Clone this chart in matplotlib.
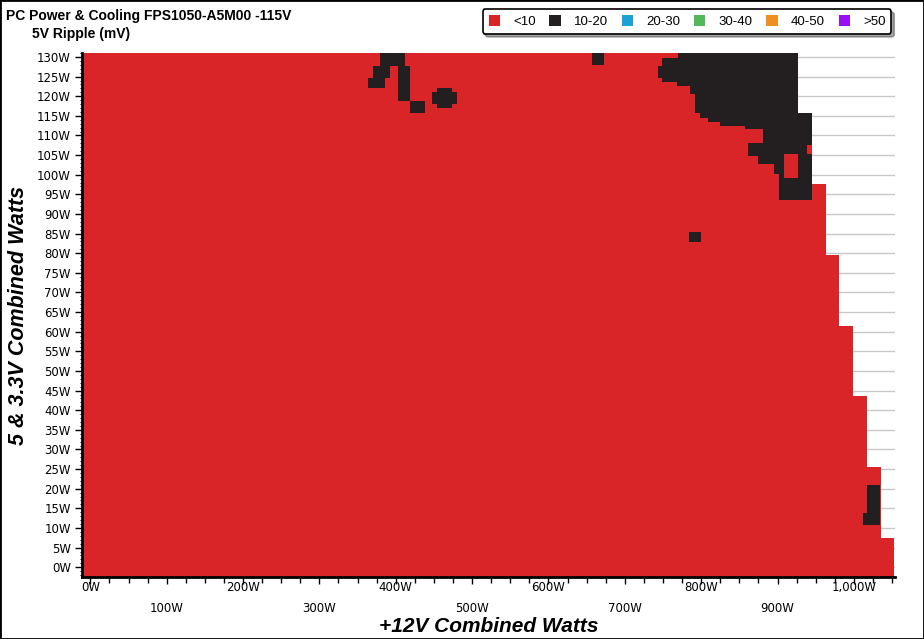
import numpy as np
import matplotlib
matplotlib.use('Agg')
import matplotlib.pyplot as plt
from matplotlib.colors import ListedColormap
from matplotlib.patches import Patch, Rectangle
from matplotlib.ticker import MultipleLocator

title = 'PC Power & Cooling FPS1050-A5M00 -115V'
subtitle = '5V Ripple (mV)'
legend_labels = ['<10', '10-20', '20-30', '30-40', '40-50', '>50']
legend_colors = ['#d92527', '#231f20', '#1aa1d6', '#52b95a', '#ef8f1f', '#9a10f5']

# 5V/3.3V load bands (upper edge) and highest +12V load tested in each band
band_top_5v = [7.5, 25.5, 43.5, 61.5, 79.5, 97.5, 115.8, 131]
band_max_12v = [1052, 1034, 1016, 998, 980, 962, 944, 926]

# zones with 10-20 mV ripple: (5V from, 5V to, 12V from, 12V to)
ripple_10_20 = [
    (127.7, 131.0, 379, 412),
    (124.7, 127.7, 370, 392), (124.7, 127.7, 402, 418),
    (121.9, 124.7, 363, 385), (121.9, 124.7, 402, 418),
    (118.8, 121.9, 402, 418),
    (115.8, 118.8, 418, 438),
    (121.0, 122.0, 453, 473), (118.0, 121.0, 447, 480), (117.0, 118.0, 453, 473),
    (128.0, 131.0, 656, 672),
    (129.8, 131.0, 769, 926),
    (127.7, 129.8, 748, 926),
    (124.7, 127.7, 743, 926),
    (123.4, 124.7, 748, 926),
    (122.6, 123.4, 768, 926),
    (120.6, 122.6, 785, 926),
    (115.8, 120.6, 791, 926),
    (114.5, 115.8, 798, 944),
    (113.5, 114.5, 808, 944),
    (112.5, 113.5, 824, 944),
    (111.7, 112.5, 857, 944),
    (108.1, 111.7, 880, 944),
    (104.8, 108.1, 861, 944),
    (102.8, 104.8, 873, 944),
    (100.3, 102.8, 894, 944),
    (93.4, 100.3, 901, 944),
    (82.7, 85.5, 783, 799),
    (10.7, 20.9, 1016, 1033),
    (10.7, 13.7, 1011, 1016),
]
# <10 mV pockets inside those zones
ripple_lt10 = [
    (99.2, 105.3, 908, 926),
    (105.3, 107.4, 937, 944),
]

x_lim = (-11, 1054)
y_lim = (-2.5, 131)

xs = np.arange(x_lim[0], x_lim[1], 0.5) + 0.25
ys = np.arange(y_lim[0], y_lim[1], 0.25) + 0.125
X, Y = np.meshgrid(xs, ys)
grid = np.full(X.shape, np.nan)
lo = y_lim[0]
for top, mx in zip(band_top_5v, band_max_12v):
    grid[(Y >= lo) & (Y < top) & (X <= mx)] = 0
    lo = top
for y0, y1, x0, x1 in ripple_10_20:
    grid[(Y >= y0) & (Y < y1) & (X >= x0) & (X <= x1)] = 1
for y0, y1, x0, x1 in ripple_lt10:
    grid[(Y >= y0) & (Y < y1) & (X >= x0) & (X <= x1)] = 0

cmap = ListedColormap(legend_colors[:2])
cmap.set_bad((1, 1, 1, 0))

arial = ['Liberation Sans', 'DejaVu Sans']

fig = plt.figure(figsize=(9.24, 6.39), dpi=100)
ax = fig.add_axes([0.0887, 0.097, 0.88, 0.82])
ax.imshow(np.ma.masked_invalid(grid), cmap=cmap, vmin=-0.5, vmax=1.5, origin='lower',
          extent=[x_lim[0], x_lim[1], y_lim[0], y_lim[1]], aspect='auto',
          interpolation='nearest', zorder=1)
ax.set_xlim(x_lim)
ax.set_ylim(y_lim)

yt = np.arange(0, 131, 5)
ax.set_yticks(yt)
ax.set_yticklabels(['%dW' % v for v in yt], fontsize=8.5)
ax.yaxis.set_minor_locator(MultipleLocator(1))
xt = np.arange(0, 1001, 100)
ax.set_xticks(xt)
ax.set_xticklabels([('{:,}W'.format(v) if (v // 100) % 2 == 0 else '\n{:,}W'.format(v)) for v in xt],
                   fontsize=8.5, linespacing=1.8)
ax.xaxis.set_minor_locator(MultipleLocator(25))
ax.tick_params(axis='both', which='major', length=5, width=1, direction='out')
ax.tick_params(axis='x', which='major', pad=-2)
ax.tick_params(axis='y', which='major', pad=3)
ax.tick_params(axis='y', which='minor', length=3, width=0.8, direction='inout')
ax.tick_params(axis='x', which='minor', length=4, width=1, direction='out')

ax.grid(axis='y', color='#c8c8c8', linewidth=1)
ax.set_axisbelow(True)
for s in ['top', 'right']:
    ax.spines[s].set_visible(False)
for s in ['left', 'bottom']:
    ax.spines[s].set_linewidth(2)

ax.set_xlabel('+12V Combined Watts', fontsize=15, fontweight='bold', style='italic',
              family=arial, labelpad=1)
ax.set_ylabel('5 & 3.3V Combined Watts', fontsize=15.5, fontweight='bold', style='italic',
              family=arial, labelpad=6)

fig.text(0.007, 0.986, title, fontsize=10, fontweight='bold', va='top', family=arial)
fig.text(0.035, 0.958, subtitle, fontsize=10, fontweight='bold', va='top', family=arial)

handles = [Patch(facecolor=c, edgecolor='none') for c in legend_colors]
leg = fig.legend(handles, legend_labels, loc='center', bbox_to_anchor=(0.7435, 0.966), ncol=6,
                 prop={'family': arial, 'size': 9.5}, frameon=True, fancybox=True, shadow=True,
                 edgecolor='black', handlelength=0.85, handleheight=0.85, handletextpad=1.0,
                 columnspacing=1.05, borderpad=0.45)
leg.get_frame().set_linewidth(1.2)

fig.patches.append(Rectangle((0, 0), 1, 1, transform=fig.transFigure, fill=False,
                             edgecolor='black', linewidth=2))

fig.savefig('out.png', dpi=100)
